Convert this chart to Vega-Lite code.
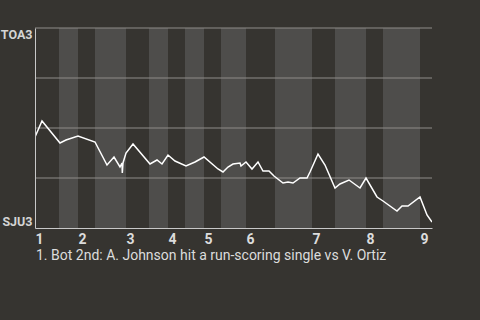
{
  "$schema": "https://vega.github.io/schema/vega-lite/v6.json",
  "width": 397,
  "height": 200,
  "autosize": "none",
  "padding": {"left": 35, "top": 28, "right": 48, "bottom": 92},
  "background": "#363430",
  "config": {
    "view": {"stroke": null},
    "font": "Roboto"
  },
  "title": {
    "text": "1. Bot 2nd: A. Johnson hit a run-scoring single vs V. Ortiz",
    "orient": "bottom",
    "anchor": "start",
    "frame": "group",
    "offset": 3,
    "dx": 1,
    "font": "Roboto",
    "fontSize": 14,
    "fontWeight": "normal",
    "color": "#dcdcdc"
  },
  "datasets": {
    "bands": [
      {"start": 24, "end": 43},
      {"start": 60, "end": 91},
      {"start": 114, "end": 133},
      {"start": 150, "end": 169},
      {"start": 186, "end": 211},
      {"start": 240, "end": 277},
      {"start": 300, "end": 331},
      {"start": 348, "end": 385}
    ],
    "grid": [{"v": 0.25}, {"v": 0.5}, {"v": 0.75}, {"v": 1}],
    "wp": [
      {"i": 0, "t": 0, "v": 0.455},
      {"i": 1, "t": 7, "v": 0.535},
      {"i": 2, "t": 25, "v": 0.425},
      {"i": 3, "t": 31, "v": 0.44},
      {"i": 4, "t": 43, "v": 0.46},
      {"i": 5, "t": 60, "v": 0.43},
      {"i": 6, "t": 72, "v": 0.315},
      {"i": 7, "t": 79, "v": 0.355},
      {"i": 8, "t": 85, "v": 0.305},
      {"i": 9, "t": 87, "v": 0.325},
      {"i": 10, "t": 87.3, "v": 0.275},
      {"i": 11, "t": 88, "v": 0.325},
      {"i": 12, "t": 91, "v": 0.375},
      {"i": 13, "t": 98, "v": 0.42},
      {"i": 14, "t": 115, "v": 0.32},
      {"i": 15, "t": 122, "v": 0.34},
      {"i": 16, "t": 127, "v": 0.32},
      {"i": 17, "t": 133, "v": 0.365},
      {"i": 18, "t": 140, "v": 0.335},
      {"i": 19, "t": 151, "v": 0.31},
      {"i": 20, "t": 160, "v": 0.33},
      {"i": 21, "t": 169, "v": 0.355},
      {"i": 22, "t": 183, "v": 0.295},
      {"i": 23, "t": 188, "v": 0.28},
      {"i": 24, "t": 193, "v": 0.305},
      {"i": 25, "t": 198, "v": 0.32},
      {"i": 26, "t": 205, "v": 0.325},
      {"i": 27, "t": 206, "v": 0.31},
      {"i": 28, "t": 211, "v": 0.33},
      {"i": 29, "t": 217, "v": 0.295},
      {"i": 30, "t": 223, "v": 0.33},
      {"i": 31, "t": 228, "v": 0.285},
      {"i": 32, "t": 234, "v": 0.285},
      {"i": 33, "t": 239, "v": 0.26},
      {"i": 34, "t": 248, "v": 0.225},
      {"i": 35, "t": 253, "v": 0.23},
      {"i": 36, "t": 258, "v": 0.225},
      {"i": 37, "t": 265, "v": 0.25},
      {"i": 38, "t": 272, "v": 0.25},
      {"i": 39, "t": 275, "v": 0.28},
      {"i": 40, "t": 283, "v": 0.37},
      {"i": 41, "t": 290, "v": 0.315},
      {"i": 42, "t": 300, "v": 0.2},
      {"i": 43, "t": 305, "v": 0.22},
      {"i": 44, "t": 314, "v": 0.24},
      {"i": 45, "t": 325, "v": 0.2},
      {"i": 46, "t": 331, "v": 0.25},
      {"i": 47, "t": 342, "v": 0.155},
      {"i": 48, "t": 348, "v": 0.135},
      {"i": 49, "t": 362, "v": 0.085},
      {"i": 50, "t": 367, "v": 0.11},
      {"i": 51, "t": 373, "v": 0.11},
      {"i": 52, "t": 385, "v": 0.155},
      {"i": 53, "t": 392, "v": 0.065},
      {"i": 54, "t": 397, "v": 0.03}
    ]
  },
  "layer": [
    {
      "data": {"name": "bands"},
      "mark": {"type": "rect", "color": "#4e4d4b"},
      "encoding": {
        "x": {
          "field": "start", "type": "quantitative",
          "scale": {"domain": [0, 397], "nice": false, "zero": false},
          "axis": {
            "values": [0, 43, 91, 133, 169, 211, 277, 331, 385],
            "labelExpr": "'' + (indexof([0,43,91,133,169,211,277,331,385], datum.value) + 1)",
            "title": null,
            "grid": false,
            "ticks": false,
            "domain": true,
            "domainColor": "#c8c8c8",
            "domainWidth": 1,
            "labelAlign": "left",
            "labelBaseline": "top",
            "labelPadding": 4,
            "labelDx": 1,
            "labelFont": "Roboto",
            "labelFontSize": 14,
            "labelFontWeight": "bold",
            "labelColor": "#dcdcdc",
            "labelFlush": false,
            "labelOverlap": false,
            "zindex": 1
          }
        },
        "x2": {"field": "end"},
        "y": {
          "datum": 0, "type": "quantitative",
          "scale": {"domain": [0, 1], "nice": false},
          "axis": {
            "values": [0, 1],
            "labelExpr": "datum.value == 1 ? 'TOA3' : 'SJU3'",
            "title": null,
            "grid": false,
            "ticks": false,
            "domain": true,
            "domainColor": "#c8c8c8",
            "domainWidth": 1,
            "labelFlush": true,
            "labelPadding": 3,
            "labelFont": "Roboto",
            "labelFontSize": 12.5,
            "labelFontWeight": "bold",
            "labelColor": "#d4d4d4",
            "zindex": 1
          }
        },
        "y2": {"datum": 1}
      }
    },
    {
      "data": {"name": "grid"},
      "mark": {"type": "rule", "color": "#8e8c89", "strokeWidth": 1},
      "encoding": {
        "y": {"field": "v", "type": "quantitative"}
      }
    },
    {
      "data": {"name": "wp"},
      "mark": {"type": "line", "color": "#ffffff", "strokeWidth": 1.5, "strokeJoin": "miter", "clip": true},
      "encoding": {
        "order": {"field": "i", "type": "quantitative"},
        "x": {"field": "t", "type": "quantitative"},
        "y": {"field": "v", "type": "quantitative"}
      }
    }
  ]
}
